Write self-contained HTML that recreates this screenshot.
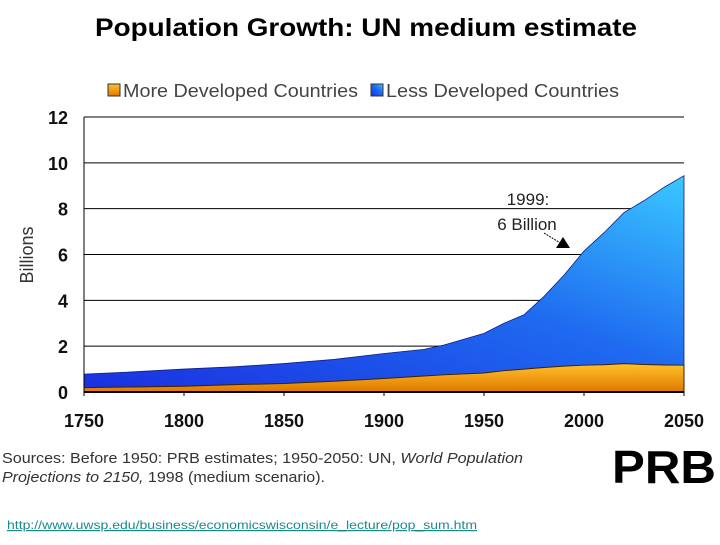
<!DOCTYPE html>
<html><head><meta charset="utf-8"><style>
body{margin:0;width:720px;height:540px;background:#fff;overflow:hidden;font-family:"Liberation Sans",sans-serif}
</style></head><body>
<svg width="720" height="540" xmlns="http://www.w3.org/2000/svg">
<defs>
<linearGradient id="gb" x1="0" y1="1" x2="1" y2="0"><stop offset="0" stop-color="#1a30e0"/><stop offset="0.55" stop-color="#1f6af0"/><stop offset="1" stop-color="#3ac8ff"/></linearGradient>
<linearGradient id="go" x1="0" y1="1" x2="0" y2="0"><stop offset="0" stop-color="#e07800"/><stop offset="1" stop-color="#ffc22a"/></linearGradient>
</defs>
<text x="95" y="36" font-size="25" font-weight="bold" fill="#000" textLength="542" lengthAdjust="spacingAndGlyphs">Population Growth: UN medium estimate</text>
<g>
<rect x="108" y="84" width="12" height="12" fill="url(#go)" stroke="#333" stroke-width="1"/>
<text x="123" y="97" font-size="18" fill="#444" textLength="235" lengthAdjust="spacingAndGlyphs">More Developed Countries</text>
<rect x="371" y="84" width="12" height="12" fill="url(#gb)" stroke="#333" stroke-width="1"/>
<text x="386" y="97" font-size="18" fill="#444" textLength="233" lengthAdjust="spacingAndGlyphs">Less Developed Countries</text>
</g>
<g id="grid"></g>
<g id="areas"></g>
<g id="axes"></g>
<text transform="translate(33,255) rotate(-90)" text-anchor="middle" font-size="18" fill="#333">Billions</text>
<text x="528" y="205" text-anchor="middle" font-size="17" fill="#222">1999:</text>
<text x="527" y="230" text-anchor="middle" font-size="17" fill="#222">6 Billion</text>
<line x1="544" y1="233" x2="562" y2="244" stroke="#000" stroke-width="1" stroke-dasharray="2,1"/>
<polygon points="556,248 570,248 563,237" fill="#000"/>
<text x="2" y="463" font-size="15" fill="#333" textLength="521" lengthAdjust="spacingAndGlyphs">Sources: Before 1950: PRB estimates; 1950-2050: UN, <tspan font-style="italic">World Population</tspan></text>
<text x="2" y="482" font-size="15" fill="#333" textLength="323" lengthAdjust="spacingAndGlyphs"><tspan font-style="italic">Projections to 2150,</tspan> 1998 (medium scenario).</text>
<g>
<text x="664" y="483" text-anchor="middle" font-size="46" font-weight="bold" fill="#000" textLength="104" lengthAdjust="spacingAndGlyphs">PRB</text>
</g>
<text x="7" y="529" font-size="12" fill="#1a8a8a" text-decoration="underline" textLength="470" lengthAdjust="spacingAndGlyphs">http://www.uwsp.edu/business/economicswisconsin/e_lecture/pop_sum.htm</text>
</svg>
<script>
const years=[1750,1775,1800,1825,1850,1875,1900,1920,1930,1950,1960,1970,1980,1990,2000,2010,2020,2030,2040,2050];
const moreDeveloped=[0.19,0.22,0.25,0.32,0.37,0.47,0.59,0.70,0.75,0.83,0.93,1.0,1.07,1.13,1.17,1.19,1.24,1.2,1.18,1.17];
const totalWorld=[0.78,0.88,1.0,1.1,1.24,1.42,1.68,1.86,2.05,2.56,3.0,3.37,4.17,5.1,6.15,6.95,7.83,8.35,8.93,9.44];
const yTicks=[0,2,4,6,8,10,12];
const xTicks=[1750,1800,1850,1900,1950,2000,2050];
const NS="http://www.w3.org/2000/svg";
const X=v=>84+(v-1750)*(684-84)/300;
const Y=v=>392-v*(392-117)/12;
function mk(t,a,p){const e=document.createElementNS(NS,t);for(const k in a)e.setAttribute(k,a[k]);p.appendChild(e);return e;}
const grid=document.getElementById('grid'),areas=document.getElementById('areas'),axes=document.getElementById('axes');
yTicks.forEach(v=>{
 if(v>0){const l=mk('line',{x1:84,x2:684,y1:Y(v),y2:Y(v),stroke:'#000','stroke-width':1},grid);
 
 }
 const t=mk('text',{x:68,y:Y(v)+7,'text-anchor':'end','font-size':18,'font-weight':'bold',fill:'#111'},axes);t.textContent=v;
 
 
});
xTicks.forEach(v=>{
 const t=mk('text',{x:X(v),y:427,'text-anchor':'middle','font-size':18,'font-weight':'bold',fill:'#111'},axes);t.textContent=v;
 
 
 const k=mk('line',{x1:X(v),x2:X(v),y1:392,y2:396,stroke:'#000'},axes);
 
 
});
let d='M'+X(years[0])+','+Y(0);
years.forEach((y,i)=>d+=' L'+X(y)+','+Y(totalWorld[i]));
d+=' L'+X(years[years.length-1])+','+Y(0)+' Z';
const less=mk('path',{d:d,fill:'url(#gb)',stroke:'#102080','stroke-width':0.8},areas);


let d2='M'+X(years[0])+','+Y(0);
years.forEach((y,i)=>d2+=' L'+X(y)+','+Y(moreDeveloped[i]));
d2+=' L'+X(years[years.length-1])+','+Y(0)+' Z';
const more=mk('path',{d:d2,fill:'url(#go)',stroke:'#402000','stroke-width':1},areas);


const ax=mk('line',{x1:84,x2:684,y1:392,y2:392,stroke:'#000','stroke-width':2},axes);


const ay=mk('line',{x1:84,x2:84,y1:117,y2:392,stroke:'#000','stroke-width':1},axes);


</script>
</body></html>
